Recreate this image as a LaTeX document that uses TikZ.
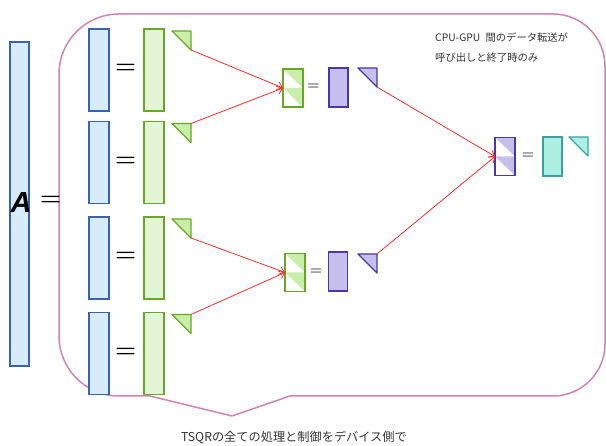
\documentclass[tikz,border=0pt]{standalone}
\usepackage{fontspec}
\newfontfamily\jp{Noto Sans CJK JP}
\newfontfamily\asans{Liberation Sans}
\usetikzlibrary{arrows.meta}
\definecolor{bfill}{HTML}{D6ECF8}
\definecolor{bdraw}{HTML}{3A62B4}
\definecolor{gfill}{HTML}{E2F5D5}
\definecolor{gtri}{HTML}{C8EEAA}
\definecolor{gdraw}{HTML}{66A825}
\definecolor{pfill}{HTML}{C6BFEE}
\definecolor{pdraw}{HTML}{4A38AA}
\definecolor{tfill}{HTML}{ADF0E2}
\definecolor{tdraw}{HTML}{3AA0A8}
\definecolor{pink}{HTML}{D282AE}
\definecolor{arr}{HTML}{FF2A2A}
\definecolor{txt}{HTML}{333333}
\begin{document}
\begin{tikzpicture}[x=1pt,y=-1pt,
  box/.style={rectangle, inner sep=0pt, outer sep=0pt, line width=1.4pt, minimum width=20pt},
  bluebox/.style={box, draw=bdraw, fill=bfill},
  greenbox/.style={box, draw=gdraw, fill=gfill},
  purplebox/.style={box, draw=pdraw, fill=pfill, minimum width=19pt, minimum height=39pt},
  tealbox/.style={box, draw=tdraw, fill=tfill, minimum width=19pt, minimum height=39pt},
  tribox/.style={rectangle, inner sep=0pt, outer sep=0pt, minimum size=19pt},
  trishape/.style={line width=1.4pt, line join=round},
  stk/.style={box, minimum height=38pt, fill=white,
    path picture={
      \fill[#1] (path picture bounding box.north west) -- (path picture bounding box.north east) -- (path picture bounding box.east) -- cycle;
      \fill[#1] (path picture bounding box.west) -- (path picture bounding box.east) -- (path picture bounding box.south east) -- cycle;}},
  eqbig/.style={inner sep=0pt, font=\bfseries\fontsize{24}{24}\selectfont},
  eqsmall/.style={inner sep=0pt, text=black!85, font=\bfseries\fontsize{14}{14}\selectfont},
  redarr/.style={draw=arr, line width=0.8pt, -{Straight Barb[length=5pt,width=8pt]}},
  callout/.style={draw=pink, line width=1.5pt, line join=round},
  note/.style={inner sep=0pt, text=txt}]
\useasboundingbox (0,0) rectangle (606,446);

% callout
\draw[callout] (59,336) -- (59,74) .. controls (59,40.9) and (85.9,14) .. (119,14)
  -- (553,14) .. controls (581.7,14) and (605,37.3) .. (605,66)
  -- (605,344) .. controls (605,372.7) and (581.7,396) .. (553,396)
  -- (290,396) -- (232,416) -- (150,396) -- (119,396)
  .. controls (85.9,396) and (59,369.1) .. (59,336) -- cycle;

% big A
\node[bluebox, minimum width=19pt, minimum height=324pt] (A) at (19.5,204) {};
\node[inner sep=0pt, font=\asans\bfseries\itshape\fontsize{29}{29}\selectfont] (Alabel) at (21,203) {A};
\node[eqbig] (Aeq) at (50.5,201) {=};

% rows
\foreach \i/\y in {1/70, 2/162.5, 3/258, 4/353.5} {
  \node[bluebox, minimum height=82pt] (b\i) at (99,\y) {};
  \node[eqbig] (e\i) at (125.5,\y-1) {=};
  \node[greenbox, minimum height=82pt] (g\i) at (154,\y) {};
  \node[tribox] (t\i) at (181.5,\y-29.5) {};
  \filldraw[trishape, draw=gdraw, fill=gtri] (t\i.north west) -- (t\i.north east) -- (t\i.south east) -- cycle;
}

% level 1
\node[stk=gtri, draw=gdraw] (s1) at (293,88) {};
\node[eqsmall] (es1) at (313.5,87) {=};
\node[purplebox] (p1) at (338.5,87.5) {};
\node[tribox] (pt1) at (367.5,77.5) {};
\filldraw[trishape, draw=pdraw, fill=pfill] (pt1.north west) -- (pt1.north east) -- (pt1.south east) -- cycle;

\node[stk=gtri, draw=gdraw] (s2) at (295,272.5) {};
\node[eqsmall] (es2) at (316,272) {=};
\node[purplebox] (p2) at (338,271.5) {};
\node[tribox] (pt2) at (367.5,263.5) {};
\filldraw[trishape, draw=pdraw, fill=pfill] (pt2.north west) -- (pt2.north east) -- (pt2.south east) -- cycle;

% level 2
\node[stk=pfill, draw=pdraw] (f) at (505,156.5) {};
\node[eqsmall] (ef) at (528,156) {=};
\node[tealbox] (q) at (552.5,156.5) {};
\node[tribox] (qt) at (578.5,146.5) {};
\filldraw[trishape, draw=tdraw, fill=tfill] (qt.north west) -- (qt.north east) -- (qt.south east) -- cycle;

% arrows
\draw[redarr] (t1.south east) -- (s1.west);
\draw[redarr] (t2.north east) -- (s1.west);
\draw[redarr] (t3.south east) -- (s2.west);
\draw[redarr] (t4.north east) -- (s2.west);
\draw[redarr] (pt1.south east) -- (f.west);
\draw[redarr] (pt2.north east) -- (f.west);

% texts
\node[note, anchor=west, font=\jp\fontsize{10.3}{10.3}\selectfont] (n1) at (435,38) {CPU-GPU\hspace{3pt} 間のデータ転送が};
\node[note, anchor=west, font=\jp\fontsize{10.3}{10.3}\selectfont] (n2) at (435,58) {呼び出しと終了時のみ};
\node[note, font=\jp\fontsize{12.2}{12.2}\selectfont] (n3) at (294,437) {TSQRの全ての処理と制御をデバイス側で};
\end{tikzpicture}
\end{document}
